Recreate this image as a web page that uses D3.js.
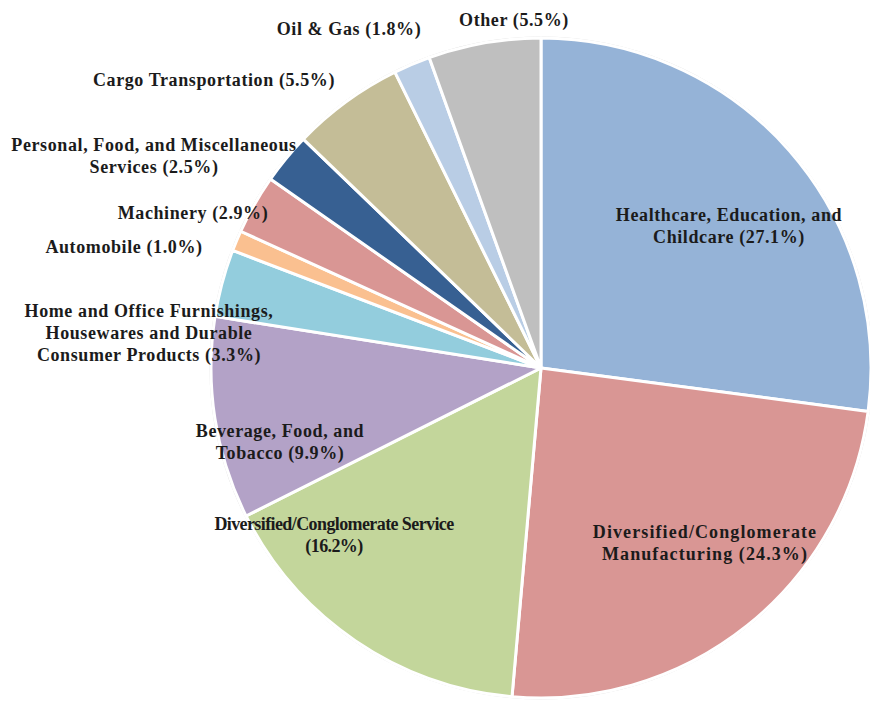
<!DOCTYPE html>
<html>
<head>
<meta charset="utf-8">
<script src="https://cdn.jsdelivr.net/npm/d3@7"></script>
<style>
body { margin: 0; background: #fff; }
svg text { font-family: "Liberation Serif", "DejaVu Serif", serif; font-weight: bold; fill: #1b1b1b; }
</style>
</head>
<body>
<div id="chart"></div>
<script>
// Data (clockwise from 12 o'clock)
var categories = [
	"Healthcare, Education, and Childcare",
	"Diversified/Conglomerate Manufacturing",
	"Diversified/Conglomerate Service",
	"Beverage, Food, and Tobacco",
	"Home and Office Furnishings, Housewares and Durable Consumer Products",
	"Automobile",
	"Machinery",
	"Personal, Food, and Miscellaneous Services",
	"Cargo Transportation",
	"Oil & Gas",
	"Other"
];
var shares = [27.1, 24.3, 16.2, 9.9, 3.3, 1.0, 2.9, 2.5, 5.5, 1.8, 5.5];
var colors = ["#95b3d7", "#d99694", "#c3d69b", "#b3a2c7", "#93cddd", "#fac090",
	"#d99694", "#376092", "#c4bd97", "#b9cde5", "#bfbfbf"];

// label lines + anchor (center x, first baseline y), letter spacing
var labelLayout = [
	{ lines: ["Healthcare, Education, and", "Childcare (27.1%)"], x: 729, y: 221, ls: 0.6 },
	{ lines: ["Diversified/Conglomerate", "Manufacturing (24.3%)"], x: 705, y: 538, ls: 1.1 },
	{ lines: ["Diversified/Conglomerate Service", "(16.2%)"], x: 334, y: 530, ls: -0.6 },
	{ lines: ["Beverage, Food, and", "Tobacco (9.9%)"], x: 280, y: 437, ls: 0.6 },
	{ lines: ["Home and Office Furnishings,", "Housewares and Durable", "Consumer Products (3.3%)"], x: 149, y: 317, ls: 0.6 },
	{ lines: ["Automobile (1.0%)"], x: 124, y: 253, ls: 0.6 },
	{ lines: ["Machinery (2.9%)"], x: 193, y: 219, ls: 0.6 },
	{ lines: ["Personal, Food, and Miscellaneous", "Services (2.5%)"], x: 154, y: 151, ls: 0.6 },
	{ lines: ["Cargo Transportation (5.5%)"], x: 214, y: 86, ls: 0.6 },
	{ lines: ["Oil & Gas (1.8%)"], x: 349, y: 35, ls: 0.6 },
	{ lines: ["Other (5.5%)"], x: 514, y: 26, ls: 0.6 }
];

var width = 870, height = 701;
var cx = 541, cy = 368, radius = 330;

var data = categories.map(function(c, i) {
	return { name: c, value: shares[i], color: colors[i], label: labelLayout[i] };
});

var svg = d3.select("#chart")
	.append("svg")
	.attr("width", width)
	.attr("height", height);

var g = svg.append("g")
	.attr("transform", "translate(" + cx + "," + cy + ")");

var pie = d3.pie()
	.sort(null)
	.value(function(d) { return d.value; });

var arc = d3.arc()
	.innerRadius(0)
	.outerRadius(radius);

// faint outline round the pie
g.append("circle")
	.attr("r", radius + 1)
	.attr("fill", "none")
	.attr("stroke", "#d9d9d9")
	.attr("stroke-width", 1);

g.selectAll("path")
	.data(pie(data))
	.enter()
	.append("path")
	.attr("d", arc)
	.attr("fill", function(d) { return d.data.color; })
	.attr("stroke", "#fff")
	.attr("stroke-width", 3)
	.attr("stroke-linejoin", "round");

// Labels
var labels = svg.selectAll("text.lbl")
	.data(data)
	.enter()
	.append("text")
	.attr("class", "lbl")
	.attr("text-anchor", "middle")
	.attr("font-size", 18)
	.style("letter-spacing", function(d) { return d.label.ls + "px"; })
	.attr("x", function(d) { return d.label.x; })
	.attr("y", function(d) { return d.label.y; });

labels.each(function(d) {
	var t = d3.select(this);
	d.label.lines.forEach(function(line, i) {
		t.append("tspan")
			.attr("x", d.label.x)
			.attr("dy", i === 0 ? 0 : 22)
			.text(line);
	});
});
</script>
</body>
</html>
